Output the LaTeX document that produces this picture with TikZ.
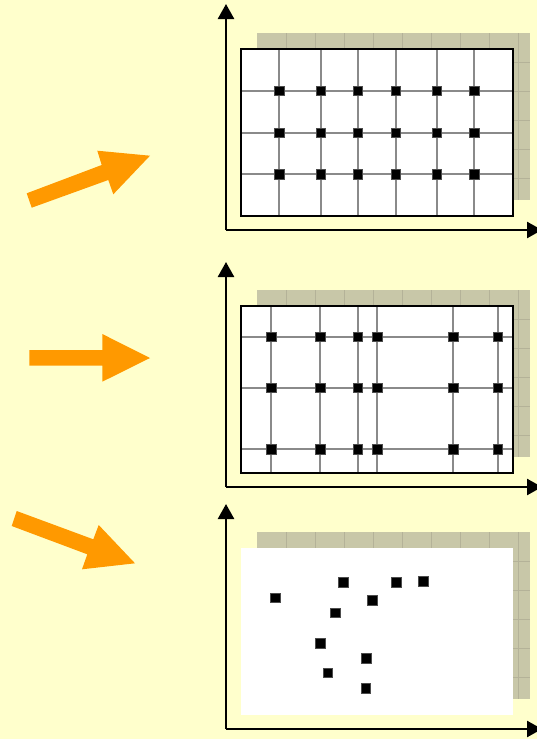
\documentclass[tikz,border=0pt]{standalone}
\usetikzlibrary{arrows.meta}
\definecolor{bgyellow}{HTML}{FFFFCC}
\definecolor{arroworange}{HTML}{FF9900}
\definecolor{shadowfill}{HTML}{C8C7A8}
\definecolor{shadowline}{HTML}{B4B298}
\definecolor{gridgrey}{HTML}{8A8A8A}
\tikzset{
  axis/.style={line width=2.5pt,-{Triangle[length=15pt,width=16pt]}},
  shadowbox/.style={fill=shadowfill,draw=none},
  shadowgrid/.style={draw=shadowline,line width=0.8pt},
  whitebox/.style={fill=white,draw=none},
  frame/.style={draw=black,line width=2pt},
  gridline/.style={draw=gridgrey,line width=2pt},
  dot/.style={fill=black,draw=black!70,line width=0.4pt,minimum size=9.5pt,inner sep=0pt,outer sep=0pt,rectangle},
  fatarrow/.style={fill=arroworange,draw=none}
}
\begin{document}
\begin{tikzpicture}[x=1pt,y=-1pt]
\fill[bgyellow] (0,0) rectangle (537,739);

% ---------- orange arrows ----------
\fill[fatarrow] (26.7,193.3) -- (101.7,165) -- (97.3,150.7) -- (150,155.7) -- (113.3,194.3) -- (108.3,180) -- (31.7,207.7) -- cycle;
\fill[fatarrow] (29.3,350) -- (102.3,350) -- (102.3,334) -- (150,358) -- (102.3,381.7) -- (102.3,365.7) -- (29.3,365.7) -- cycle;
\fill[fatarrow] (16.7,511) -- (93.3,539.3) -- (98.7,525) -- (135,563.3) -- (82,569.3) -- (87.3,554.3) -- (11.7,526) -- cycle;

% ---------- panel shadows ----------
\foreach \t in {33,290,532}{
  \fill[shadowbox] (257,\t) rectangle (530,\t+167);
  \begin{scope}
    \clip (257,\t) rectangle (530,\t+167);
    \foreach \k in {1,...,9} \draw[shadowgrid] (257+29*\k,\t) -- (257+29*\k,\t+167);
    \foreach \k in {1,...,5} \draw[shadowgrid] (257,\t+29*\k) -- (530,\t+29*\k);
  \end{scope}
}

% ---------- panel 1: regular grid ----------
\fill[whitebox] (241,49) rectangle (513,216);
\foreach \gx in {279,320.7,357.7,395.7,436.7,474} \draw[gridline] (\gx,49) -- (\gx,216);
\foreach \gy in {90.7,132.7,174.3} \draw[gridline] (241,\gy) -- (513,\gy);
\draw[frame] (241,49) rectangle (513,216);
\foreach \gx [count=\i] in {279,320.7,357.7,395.7,436.7,474}
  \foreach \gy [count=\j] in {90.7,132.7,174.3}
    \node[dot] (a-\i-\j) at (\gx,\gy) {};
\coordinate (o1) at (226,230);
\coordinate (y1) at (226,4);
\coordinate (x1) at (542,230);
\draw[axis] (o1) -- (y1);
\draw[axis] (o1) -- (x1);

% ---------- panel 2: irregular grid ----------
\fill[whitebox] (241,306) rectangle (513,473);
\foreach \gx in {271,320,357.7,377.3,453.3,497.7} \draw[gridline] (\gx,306) -- (\gx,473);
\foreach \gy in {336.7,387.7,449.3} \draw[gridline] (241,\gy) -- (513,\gy);
\draw[frame] (241,306) rectangle (513,473);
\foreach \gx [count=\i] in {271,320,357.7,377.3,453.3,497.7}
  \foreach \gy [count=\j] in {336.7,387.7,449.3}
    \node[dot] (b-\i-\j) at (\gx,\gy) {};
\coordinate (o2) at (226,487);
\coordinate (y2) at (226,262);
\coordinate (x2) at (542,487);
\draw[axis] (o2) -- (y2);
\draw[axis] (o2) -- (x2);

% ---------- panel 3: scattered points ----------
\fill[whitebox] (241,548) rectangle (513,715);
\foreach \px/\py [count=\i] in {343/582.3,396/582.3,423.3/581,275/597.7,372/600.3,335.3/612.7,320.3/643,366/658,327.7/672.7,365.7/688.3}
  \node[dot] (c-\i) at (\px,\py) {};
\coordinate (o3) at (226,729);
\coordinate (y3) at (226,504);
\coordinate (x3) at (542,729);
\draw[axis] (o3) -- (y3);
\draw[axis] (o3) -- (x3);

\pgfresetboundingbox
\useasboundingbox (0,0) rectangle (537,739);
\end{tikzpicture}
\end{document}
